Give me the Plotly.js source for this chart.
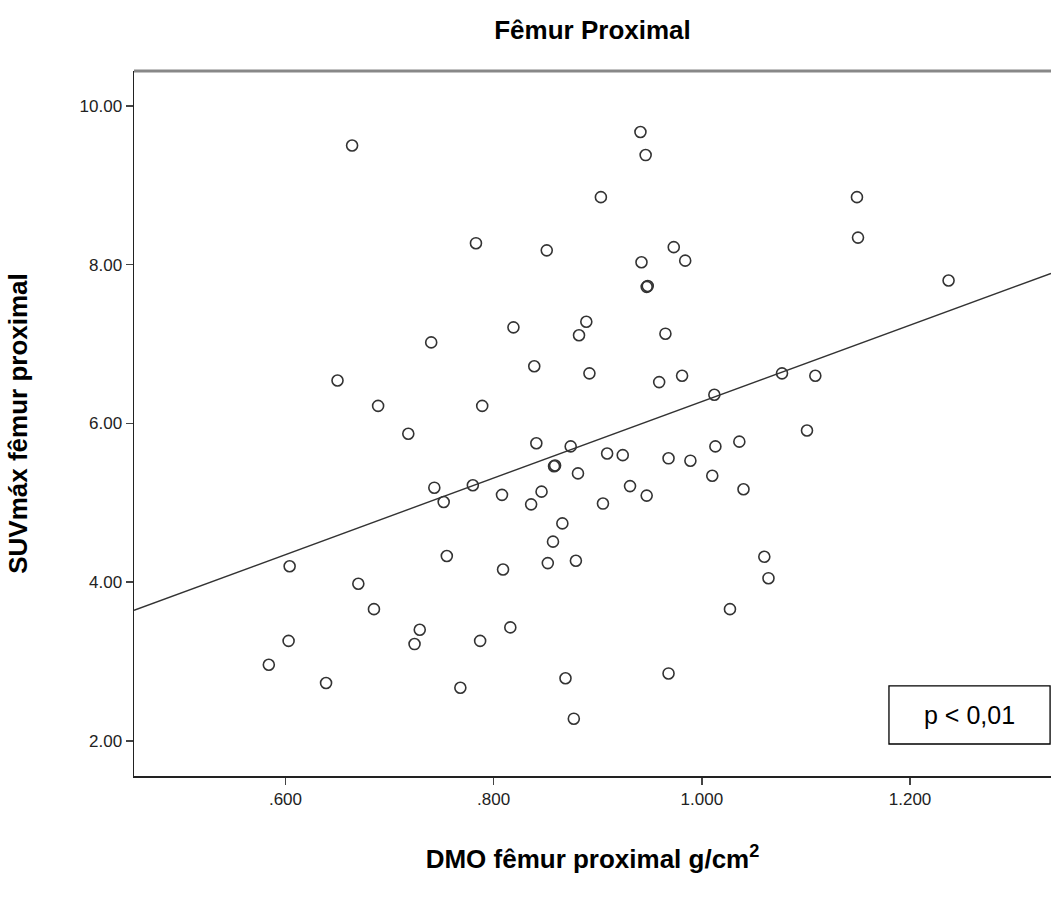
<!DOCTYPE html>
<html>
<head>
<meta charset="utf-8">
<script src="https://cdn.plot.ly/plotly-3.0.1.min.js"></script>
<style>
html,body{margin:0;padding:0;background:#fff;}
#chart{width:1051px;height:897px;}
</style>
</head>
<body>
<div id="chart"></div>
<script>
// DMO fêmur proximal (g/cm²)
const dmo = [0.664,0.783,0.740,0.650,0.689,0.718,0.743,0.752,0.780,0.755,
             0.604,0.670,0.685,0.729,0.603,0.724,0.584,0.639,0.768,0.941,
             0.946,0.903,0.851,0.973,0.984,0.942,0.948,0.947,0.819,0.889,
             0.882,0.965,0.839,0.892,0.959,0.981,1.012,1.077,0.789,1.149,
             1.150,1.237,1.109,1.101,0.841,0.874,0.859,0.858,0.881,0.909,
             0.924,0.968,0.989,1.013,1.036,1.010,1.040,0.808,0.846,0.836,
             0.931,0.947,0.905,0.866,0.857,0.852,0.879,0.809,1.060,1.064,
             1.027,0.816,0.787,0.869,0.968,0.877];
// SUVmáx fêmur proximal
const suv = [9.50,8.27,7.02,6.54,6.22,5.87,5.19,5.01,5.22,4.33,
             4.20,3.98,3.66,3.40,3.26,3.22,2.96,2.73,2.67,9.67,
             9.38,8.85,8.18,8.22,8.05,8.03,7.73,7.72,7.21,7.28,
             7.11,7.13,6.72,6.63,6.52,6.60,6.36,6.63,6.22,8.85,
             8.34,7.80,6.60,5.91,5.75,5.71,5.47,5.46,5.37,5.62,
             5.60,5.56,5.53,5.71,5.77,5.34,5.17,5.10,5.14,4.98,
             5.21,5.09,4.99,4.74,4.51,4.24,4.27,4.16,4.32,4.05,
             3.66,3.43,3.26,2.79,2.85,2.28];

const xTickVals = [0.6, 0.8, 1.0, 1.2];
const xTickText = ['.600', '.800', '1.000', '1.200'];
const yTickVals = [2, 4, 6, 8, 10];
const yTickText = ['2.00', '4.00', '6.00', '8.00', '10.00'];

// linear fit
const fitSlope = 4.817;
const fitIntercept = 1.457;

const xRange = [0.4545, 1.3354];
const yRange = [1.558, 10.439];

const fitX = xRange.slice();
const fitY = fitX.map(v => fitIntercept + fitSlope * v);

const FONT = 'Arial, "Liberation Sans", sans-serif';

const traces = [
  {
    x: fitX, y: fitY, type: 'scatter', mode: 'lines',
    line: {color: '#333333', width: 1.4},
    hoverinfo: 'skip', showlegend: false
  },
  {
    x: dmo, y: suv, type: 'scatter', mode: 'markers',
    marker: {symbol: 'circle-open', size: 11, color: '#333333', line: {width: 1.6, color: '#333333'}},
    showlegend: false
  }
];

const layout = {
  width: 1051, height: 897,
  margin: {l: 134, r: 0, t: 71, b: 121},
  paper_bgcolor: '#ffffff', plot_bgcolor: '#ffffff',
  font: {family: FONT, color: '#222222'},
  title: {
    text: '<b>Fêmur Proximal</b>',
    font: {family: FONT, size: 26, color: '#000000'},
    xref: 'paper', x: 0.5, xanchor: 'center',
    yref: 'container', y: 1 - 30/897, yanchor: 'middle'
  },
  xaxis: {
    range: xRange, tickmode: 'array', tickvals: xTickVals, ticktext: xTickText,
    showgrid: false, zeroline: false, showline: true, linecolor: '#222222', linewidth: 1.5,
    ticks: 'outside', ticklen: 7, tickwidth: 1.5, tickcolor: '#444444',
    tickfont: {family: FONT, size: 17, color: '#222222'},
    title: {text: '<b>DMO fêmur proximal g/cm<sup>2</sup></b>', font: {family: FONT, size: 26, color: '#000000'}, standoff: 42},
    automargin: false, fixedrange: true
  },
  yaxis: {
    range: yRange, tickmode: 'array', tickvals: yTickVals, ticktext: yTickText,
    showgrid: false, zeroline: false, showline: true, linecolor: '#222222', linewidth: 1.5,
    ticks: 'outside', ticklen: 7, tickwidth: 1.5, tickcolor: '#444444',
    tickfont: {family: FONT, size: 17, color: '#222222'},
    title: {text: '<b>SUVmáx fêmur proximal</b>', font: {family: FONT, size: 26, color: '#000000'}, standoff: 44},
    automargin: false, fixedrange: true
  },
  shapes: [
    {type: 'line', xref: 'paper', yref: 'paper', x0: 0, x1: 1, y0: 1, y1: 1,
     line: {color: '#888888', width: 3}},
    {type: 'rect', xref: 'paper', yref: 'paper', x0: 0.8233, x1: 0.999, y0: 0.0454, y1: 0.1277,
     line: {color: '#000000', width: 1.3}, fillcolor: '#ffffff', layer: 'above'}
  ],
  annotations: [
    {text: 'p &lt; 0,01', xref: 'paper', yref: 'paper', x: 0.9106, y: 0.0865,
     xanchor: 'center', yanchor: 'middle', showarrow: false,
     font: {family: FONT, size: 25, color: '#000000'}}
  ]
};

Plotly.newPlot('chart', traces, layout, {displayModeBar: false, staticPlot: true});
</script>
</body>
</html>
